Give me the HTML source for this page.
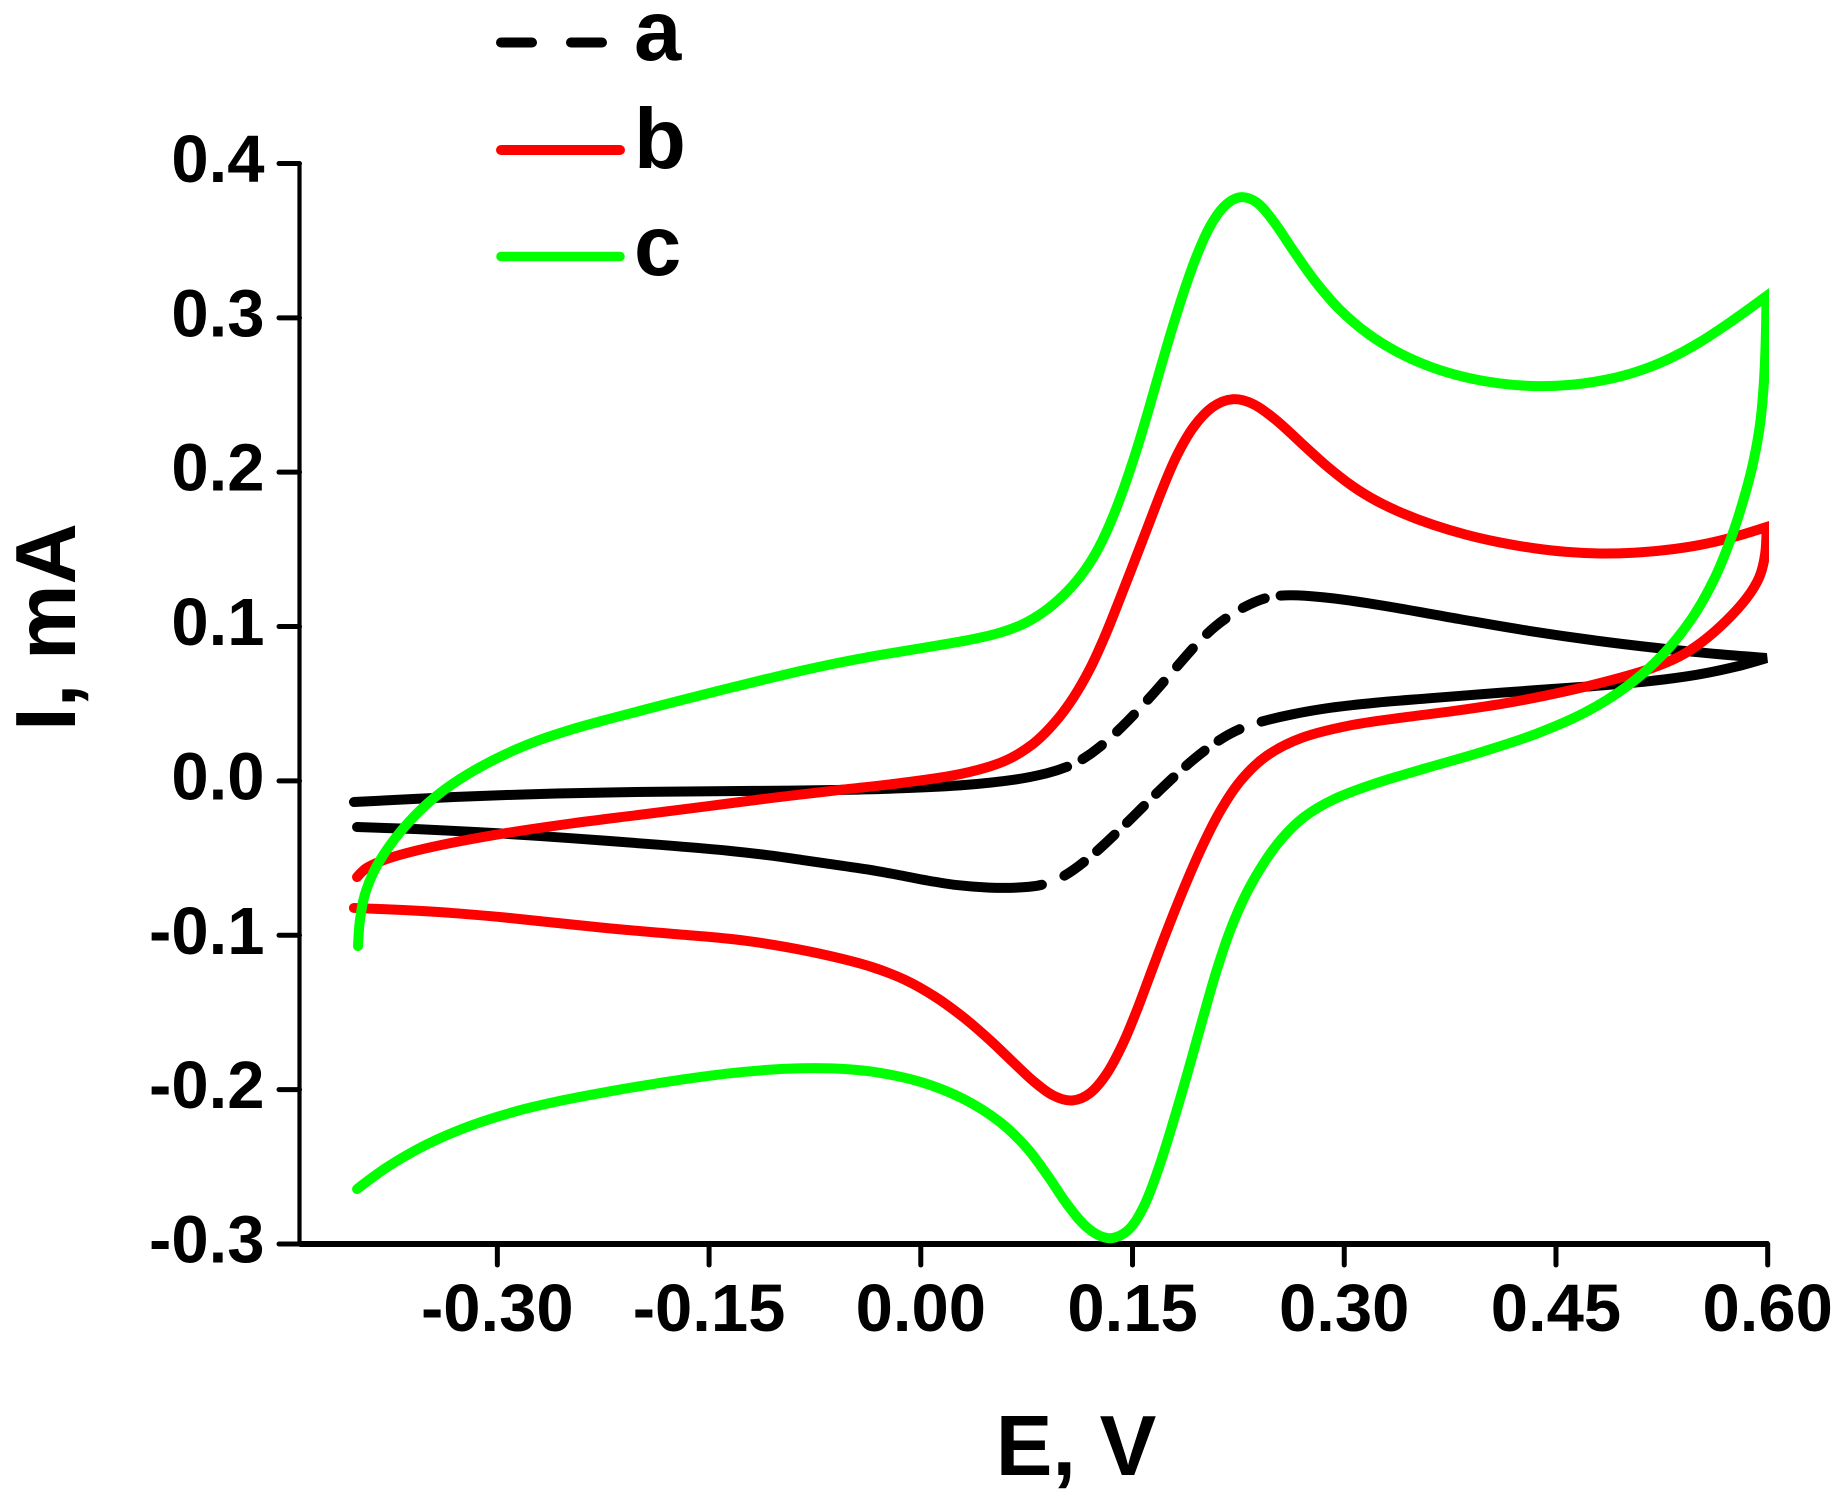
<!DOCTYPE html>
<html lang="en">
<head>
<meta charset="utf-8">
<title>Cyclic voltammograms</title>
<style>
html,body{margin:0;padding:0;background:#fff;}
svg{display:block;font-family:"Liberation Sans",Arial,sans-serif;font-weight:bold;fill:#000;}
</style>
</head>
<body>
<svg id="chart" xmlns="http://www.w3.org/2000/svg" width="1840" height="1495" viewBox="0 0 1840 1495">
  <rect x="0" y="0" width="1840" height="1495" fill="#fff"/>
  <defs>
    <clipPath id="plot-clip"><rect x="0" y="0" width="1769" height="1495"/></clipPath>
  </defs>
  <g id="axes"></g>
  <g id="series" clip-path="url(#plot-clip)" fill="none" stroke-width="10" stroke-linecap="round" stroke-linejoin="miter"></g>
  <text x="1076" y="1475" font-size="85" text-anchor="middle">E, V</text>
  <text transform="translate(75 627) rotate(-90)" font-size="85" text-anchor="middle">I, mA</text>
  <g>
    <line x1="501" y1="42.5" x2="602" y2="42.5" stroke="#000" stroke-width="10" stroke-linecap="round" stroke-dasharray="31 39"/>
    <text x="634" y="60" font-size="85">a</text>
    <line x1="501" y1="150" x2="620" y2="150" stroke="#f00" stroke-width="10" stroke-linecap="round"/>
    <text x="634" y="168" font-size="85">b</text>
    <line x1="501" y1="256.5" x2="620" y2="256.5" stroke="#0f0" stroke-width="9.5" stroke-linecap="round"/>
    <text x="634" y="275" font-size="85">c</text>
  </g>
</svg>
<script>
const xTicks = [-0.30, -0.15, 0.00, 0.15, 0.30, 0.45, 0.60];
const xTickLabels = ["-0.30", "-0.15", "0.00", "0.15", "0.30", "0.45", "0.60"];
const yTicks = [0.4, 0.3, 0.2, 0.1, 0.0, -0.1, -0.2, -0.3];
const yTickLabels = ["0.4", "0.3", "0.2", "0.1", "0.0", "-0.1", "-0.2", "-0.3"];

const aE = [-0.4016,-0.3314,-0.2592,-0.1869,-0.1146,-0.0622,-0.0147,0.0327,0.0682,0.0866,0.1057,
  0.1128,0.1262,0.1425,0.1603,0.1829,0.1964,0.2070,0.2212,0.2332,0.2460,
  0.2538,0.2722,0.2991,0.3409,0.3785,0.4359,0.4734,0.5308,0.5683,0.5992,
  0.5797,0.5492,0.5152,0.4734,0.4359,0.3976,0.3593,0.3218,0.2913,0.2651,0.2368,
  0.2283,0.2120,0.1921,0.1695,0.1461,0.1213,0.0979,
  0.0894,0.0682,0.0490,0.0256,0.0016,-0.0147,-0.0381,-0.0622,-0.0856,-0.1090,-0.1331,-0.1756,-0.2223,-0.2698,-0.3173,-0.3527,-0.3994];
const aI = [-0.0137,-0.0104,-0.0078,-0.0072,-0.0065,-0.0059,-0.0046,-0.0027,0.0006,0.0051,0.0103,
  0.0135,0.0220,0.0349,0.0511,0.0764,0.0893,0.0984,0.1088,0.1140,0.1185,
  0.1191,0.1204,0.1172,0.1120,0.1049,0.0965,0.0913,0.0854,0.0816,0.0796,
  0.0744,0.0686,0.0641,0.0615,0.0589,0.0563,0.0531,0.0505,0.0479,0.0433,0.0369,
  0.0336,0.0265,0.0135,-0.0052,-0.0273,-0.0493,-0.0629,
  -0.0655,-0.0687,-0.0694,-0.0674,-0.0642,-0.0610,-0.0568,-0.0545,-0.0512,-0.0480,-0.0454,-0.0422,-0.0389,-0.0357,-0.0331,-0.0312,-0.0299];
const aSolidRuns = [[0,10],[21,41],[49,65]];
const aDashedRuns = [[11,20],[42,48]];

const bE = [-0.3994,-0.3924,-0.3761,-0.3406,-0.2932,-0.2464,-0.1989,-0.1515,-0.1090,-0.0622,-0.0147,0.0327,0.0561,0.0795,0.0937,0.1078,0.1199,0.1305,0.1404,0.1503,0.1624,0.1716,0.1815,0.1928,0.2070,0.2212,0.2354,0.2524,0.2687,0.2878,0.3062,0.3232,0.3395,0.3629,0.3870,0.4103,0.4337,0.4578,0.4812,0.5046,0.5287,0.5520,0.5754,0.5992,
  0.5992,0.5931,0.5853,0.5712,0.5520,0.5357,0.5173,0.4925,0.4543,0.4167,0.3785,0.3409,0.3027,0.2687,0.2460,0.2269,0.2120,0.1985,0.1836,0.1716,0.1624,0.1532,0.1433,0.1319,0.1199,0.1071,0.0937,0.0795,0.0653,0.0490,0.0299,0.0115,-0.0147,-0.0317,-0.0636,-0.0955,-0.1267,-0.1508,-0.1869,-0.2230,-0.2592,-0.2953,-0.3314,-0.3676,-0.4016];
const bI = [-0.0623,-0.0558,-0.0499,-0.0415,-0.0338,-0.0273,-0.0221,-0.0169,-0.0111,-0.0059,-0.0014,0.0051,0.0116,0.0246,0.0375,0.0544,0.0718,0.0945,0.1172,0.1399,0.1671,0.1904,0.2098,0.2293,0.2422,0.2468,0.2448,0.2325,0.2196,0.2034,0.1904,0.1820,0.1742,0.1658,0.1593,0.1548,0.1509,0.1483,0.1476,0.1476,0.1502,0.1528,0.1574,0.1645,
  0.1450,0.1321,0.1191,0.1042,0.0893,0.0796,0.0738,0.0660,0.0576,0.0505,0.0453,0.0407,0.0356,0.0278,0.0168,-0.0007,-0.0201,-0.0448,-0.0752,-0.1050,-0.1245,-0.1484,-0.1698,-0.1892,-0.2022,-0.2074,-0.2035,-0.1938,-0.1821,-0.1679,-0.1530,-0.1406,-0.1277,-0.1212,-0.1141,-0.1076,-0.1031,-0.1011,-0.0985,-0.0953,-0.0921,-0.0882,-0.0856,-0.0836,-0.0823];

const cE = [-0.3987,-0.3973,-0.3945,-0.3881,-0.3782,-0.3668,-0.3527,-0.3357,-0.3173,-0.2932,-0.2698,-0.2464,-0.2223,-0.1989,-0.1756,-0.1515,-0.1331,-0.1090,-0.0856,-0.0622,-0.0381,-0.0147,0.0086,0.0327,0.0561,0.0703,0.0866,0.1007,0.1128,0.1248,0.1319,0.1433,0.1532,0.1610,0.1695,0.1780,0.1858,0.1957,0.2049,0.2141,0.2276,0.2382,0.2495,0.2637,0.2807,0.2970,0.3161,0.3395,0.3629,0.3870,0.4103,0.4337,0.4578,0.4812,0.5046,0.5287,0.5520,0.5754,0.5992,
  0.5988,0.5946,0.5896,0.5825,0.5733,0.5612,0.5471,0.5265,0.5003,0.4699,0.4359,0.3976,0.3593,0.3218,0.2913,0.2722,0.2573,0.2417,0.2311,0.2191,0.2098,0.1999,0.1907,0.1787,0.1695,0.1574,0.1482,0.1326,0.1177,0.1036,0.0894,0.0752,0.0561,0.0313,-0.0006,-0.0317,-0.0636,-0.0955,-0.1267,-0.1586,-0.1904,-0.2216,-0.2535,-0.2847,-0.3165,-0.3484,-0.3796,-0.3994];
const cI = [-0.1070,-0.0901,-0.0752,-0.0597,-0.0448,-0.0318,-0.0169,-0.0046,0.0058,0.0181,0.0265,0.0336,0.0395,0.0453,0.0511,0.0563,0.0608,0.0660,0.0712,0.0757,0.0803,0.0835,0.0874,0.0913,0.0958,0.1010,0.1094,0.1204,0.1321,0.1496,0.1625,0.1885,0.2144,0.2403,0.2662,0.2921,0.3161,0.3394,0.3588,0.3718,0.3783,0.3744,0.3634,0.3426,0.3226,0.3051,0.2902,0.2772,0.2675,0.2617,0.2578,0.2558,0.2565,0.2597,0.2643,0.2727,0.2843,0.2986,0.3141,
  0.2662,0.2338,0.2079,0.1820,0.1561,0.1301,0.1062,0.0835,0.0608,0.0440,0.0310,0.0187,0.0084,-0.0014,-0.0124,-0.0234,-0.0363,-0.0558,-0.0726,-0.0966,-0.1225,-0.1530,-0.1853,-0.2197,-0.2475,-0.2760,-0.2896,-0.2974,-0.2896,-0.2735,-0.2553,-0.2378,-0.2210,-0.2067,-0.1944,-0.1892,-0.1866,-0.1866,-0.1886,-0.1925,-0.1964,-0.2015,-0.2074,-0.2132,-0.2229,-0.2346,-0.2501,-0.2644];

const SVG_NS = "http://www.w3.org/2000/svg";
const xScale = v => 920.8 + v * 1411.5;
const yScale = v => 780.9 - v * 1543.6;
const axesGroup = document.getElementById("axes");
const seriesGroup = document.getElementById("series");

function makeEl(tag, parent, attrs) {
  const el = document.createElementNS(SVG_NS, tag);
  for (const k in attrs) el.setAttribute(k, attrs[k]);
  parent.appendChild(el);
  return el;
}

/* sharp turn test for the switching vertex of each scan */
function isCorner(p, i) {
  const ax = p[i][0] - p[i-1][0], ay = p[i][1] - p[i-1][1];
  const bx = p[i+1][0] - p[i][0], by = p[i+1][1] - p[i][1];
  const la = Math.hypot(ax, ay), lb = Math.hypot(bx, by);
  return !la || !lb || (ax*bx + ay*by) / (la*lb) < 0.3;
}

/* scale values to pixels, then remove hand-reading jitter without shrinking the loop */
function toPoints(es, is) {
  let p = es.map((e, i) => [xScale(e), yScale(is[i])]);
  const fixed = p.map((q, i) => i === 0 || i === p.length - 1 || isCorner(p, i));
  const step = (pts, k) => pts.map((q, i) => {
    if (fixed[i]) return q;
    return [q[0] + k * ((pts[i-1][0] + pts[i+1][0]) / 2 - q[0]),
            q[1] + k * ((pts[i-1][1] + pts[i+1][1]) / 2 - q[1])];
  });
  for (let n = 0; n < 4; n++) p = step(step(p, 0.5), -0.53);
  return p;
}

function smoothPath(p, from, to) {
  const tangent = i => {
    if (i <= 0 || i >= p.length - 1 || isCorner(p, i)) return [0, 0];
    const ax = p[i][0] - p[i-1][0], ay = p[i][1] - p[i-1][1];
    const bx = p[i+1][0] - p[i][0], by = p[i+1][1] - p[i][1];
    const la = Math.hypot(ax, ay), lb = Math.hypot(bx, by);
    return [(ax + bx) / (la + lb), (ay + by) / (la + lb)];
  };
  let d = "M" + p[from][0].toFixed(2) + " " + p[from][1].toFixed(2);
  for (let i = from; i < to; i++) {
    const len = Math.hypot(p[i+1][0] - p[i][0], p[i+1][1] - p[i][1]) / 3;
    const t0 = tangent(i), t1 = tangent(i + 1);
    d += "C" + (p[i][0] + t0[0]*len).toFixed(2) + " " + (p[i][1] + t0[1]*len).toFixed(2) +
         " " + (p[i+1][0] - t1[0]*len).toFixed(2) + " " + (p[i+1][1] - t1[1]*len).toFixed(2) +
         " " + p[i+1][0].toFixed(2) + " " + p[i+1][1].toFixed(2);
  }
  return d;
}

/* axes */
const yAxisLine = makeEl("line", axesGroup, {x1: 299.5, x2: 299.5, y1: yScale(0.4), y2: yScale(-0.3), stroke: "#000", "stroke-width": 4.2});


const xAxisLine = makeEl("line", axesGroup, {x1: 299.5, x2: xScale(0.6) + 1, y1: yScale(-0.3), y2: yScale(-0.3), stroke: "#000", "stroke-width": 6});



yTicks.forEach((v, i) => {
  const tick = makeEl("line", axesGroup, {x1: 279, x2: 299.5, y1: yScale(v), y2: yScale(v), stroke: "#000", "stroke-width": 5, "stroke-linecap": "round"});
  
  
  const label = makeEl("text", axesGroup, {x: 264.5, y: yScale(v) + 18.5, "font-size": 67, "text-anchor": "end"});
  
  
  label.textContent = yTickLabels[i];
});
xTicks.forEach((v, i) => {
  const tick = makeEl("line", axesGroup, {x1: xScale(v), x2: xScale(v), y1: yScale(-0.3), y2: yScale(-0.3) + 21, stroke: "#000", "stroke-width": 5, "stroke-linecap": "round"});
  
  
  const label = makeEl("text", axesGroup, {x: xScale(v), y: 1331, "font-size": 67, "text-anchor": "middle"});
  
  
  label.textContent = xTickLabels[i];
});

/* series a: solid and dashed stretches */
const aPoints = toPoints(aE, aI);
aSolidRuns.forEach(run => {
  const seg = makeEl("path", seriesGroup, {d: smoothPath(aPoints, run[0], run[1]), stroke: "#000"});
  
  
});
aDashedRuns.forEach(run => {
  const seg = makeEl("path", seriesGroup, {d: smoothPath(aPoints, run[0], run[1]), stroke: "#000"});
  
  
  const dash = 24, count = 6, total = seg.getTotalLength();
  seg.setAttribute("stroke-dasharray", dash + " " + ((total - count * dash) / (count - 1)).toFixed(2));
});

/* series b */
const bLine = makeEl("path", seriesGroup, {d: smoothPath(toPoints(bE, bI), 0, bE.length - 1), stroke: "#f00"});



/* series c */
const cLine = makeEl("path", seriesGroup, {d: smoothPath(toPoints(cE, cI), 0, cE.length - 1), stroke: "#0f0"});


</script>
</body>
</html>
